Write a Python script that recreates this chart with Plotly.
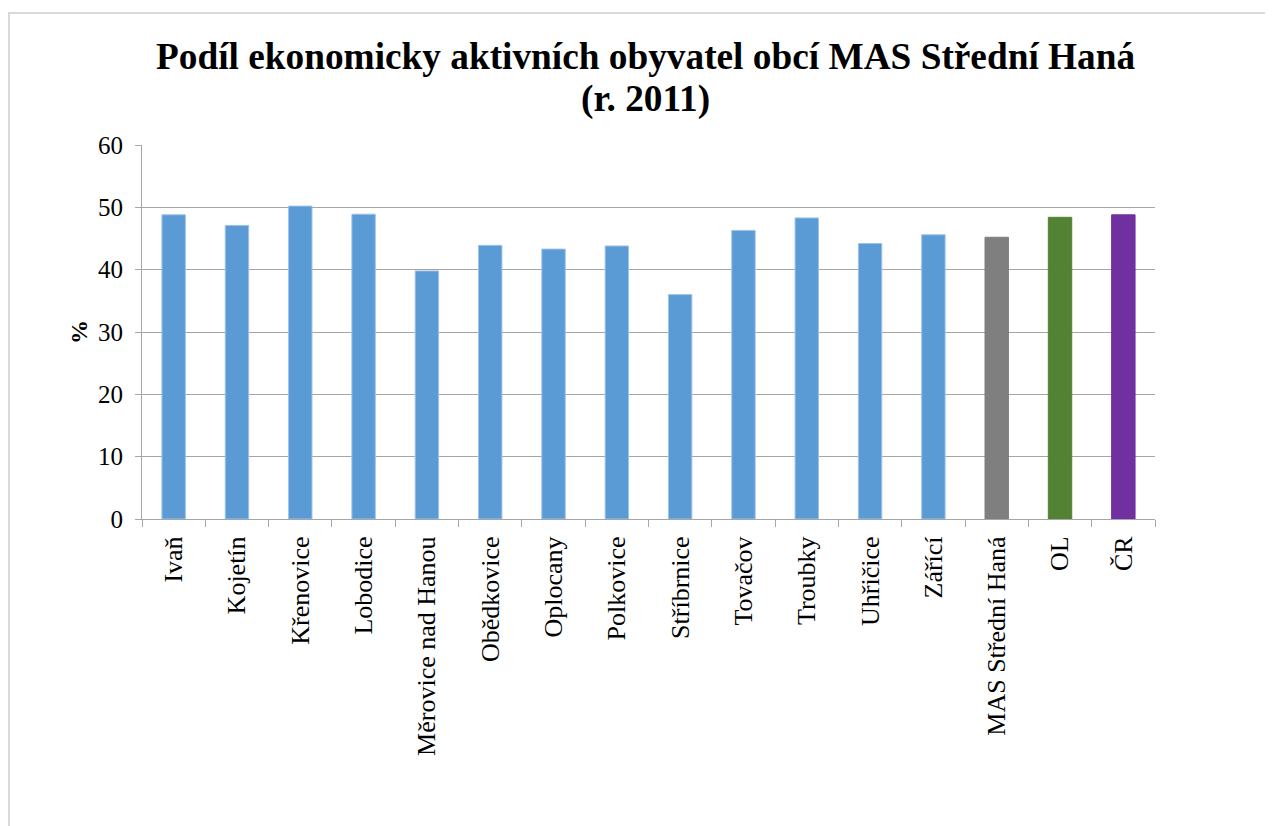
import plotly.graph_objects as go

categories = ["Ivaň", "Kojetín", "Křenovice", "Lobodice", "Měrovice nad Hanou",
              "Obědkovice", "Oplocany", "Polkovice", "Stříbrnice", "Tovačov",
              "Troubky", "Uhřičice", "Z\u00e1\u0159\u00edc\u00ed", "MAS Střední Haná", "OL", "ČR"]
values = [48.8, 47.1, 50.2, 48.9, 39.8, 43.9, 43.3, 43.8, 36.0, 46.3,
          48.3, 44.2, 45.6, 45.2, 48.4, 48.8]
bar_colors = ["#5B9BD5"] * 13 + ["#7F7F7F", "#548235", "#7030A0"]
line_colors = ["#9DC3E6"] * 13 + ["#7F7F7F", "#548235", "#7030A0"]
y_ticks = [0, 10, 20, 30, 40, 50, 60]
title_lines = ["Podíl ekonomicky aktivních obyvatel obcí MAS Střední Haná", "(r. 2011)"]
y_title = "%"

FONT = "Liberation Serif"
OFF = 8  # default body margin of the html page
W, H = 1273 - OFF, 826 - OFF
# target plot area in screen pixels: x 142..1155, y 145..519
L = 142 - OFF
T = 145 - OFF
R = W - (1155 - OFF)
B = H - (519 - OFF)
pw, ph = W - L - R, H - T - B

fig = go.Figure(go.Bar(
    x=categories, y=values,
    marker=dict(color=bar_colors, line=dict(color=line_colors, width=1)),
    width=0.37,
))

def px_x(p):
    return (p - OFF - L) / pw

def px_y(p):
    return (H - B - (p - OFF)) / ph

annotations = [
    dict(text="<b>" + title_lines[0] + "</b>", x=px_x(645), y=px_y(57),
         xref="paper", yref="paper", xanchor="center", yanchor="middle",
         showarrow=False, font=dict(family=FONT, size=37.3, color="black")),
    dict(text="<b>" + title_lines[1] + "</b>", x=px_x(645), y=px_y(99),
         xref="paper", yref="paper", xanchor="center", yanchor="middle",
         showarrow=False, font=dict(family=FONT, size=37.3, color="black")),
    dict(text="<b>" + y_title + "</b>", x=px_x(79), y=px_y(332),
         xref="paper", yref="paper", xanchor="center", yanchor="middle",
         textangle=-90, showarrow=False, font=dict(family=FONT, size=24, color="black")),
]

fig.update_layout(
    width=W, height=H,
    margin=dict(l=L, r=R, t=T, b=B, autoexpand=False),
    paper_bgcolor="white", plot_bgcolor="white",
    showlegend=False,
    font=dict(family=FONT, color="black", size=25),
    xaxis=dict(
        tickangle=-90, tickfont=dict(size=26, family=FONT),
        ticks="outside", tickson="boundaries", ticklen=7, tickcolor="#A6A6A6",
        showline=True, linecolor="#A6A6A6", linewidth=1,
        showgrid=False, ticklabelstandoff=6,
    ),
    yaxis=dict(
        range=[0, 60], tickvals=y_ticks, tickfont=dict(size=25, family=FONT),
        ticks="outside", ticklen=6, tickcolor="#A6A6A6",
        showline=True, linecolor="#A6A6A6", linewidth=1,
        showgrid=True, gridcolor="#A6A6A6", gridwidth=1,
        zeroline=False, ticklabelstandoff=7,
    ),
    annotations=annotations,
    shapes=[dict(
        type="rect", xref="paper", yref="paper",
        x0=px_x(9), x1=px_x(1300), y0=px_y(860), y1=px_y(13),
        line=dict(color="#D9D9D9", width=2), fillcolor="rgba(0,0,0,0)", layer="below",
    )],
)

fig.write_html("out.html")
